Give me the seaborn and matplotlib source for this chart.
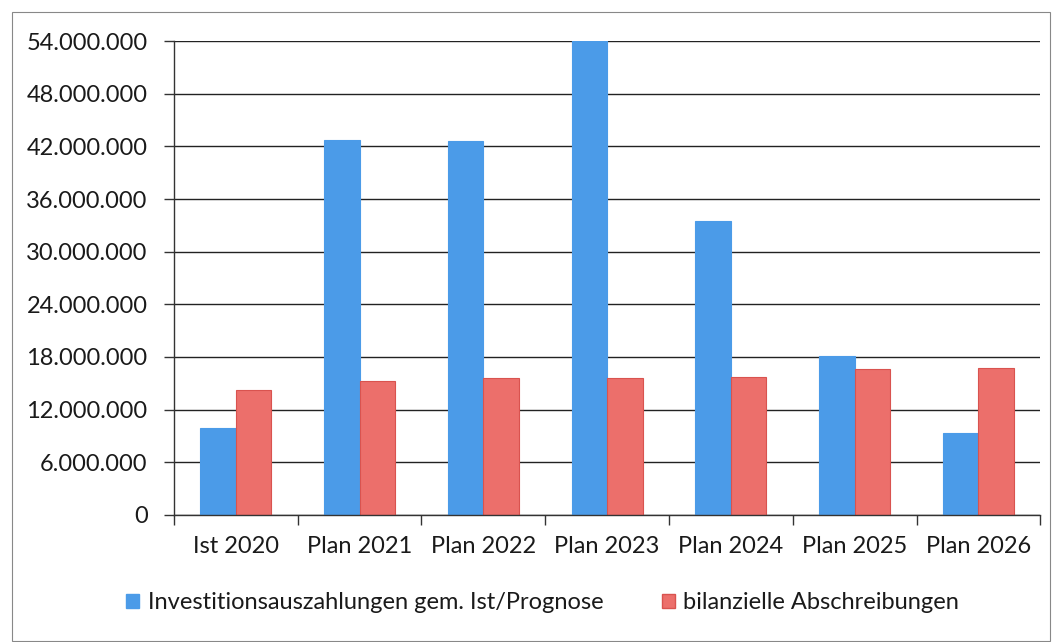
import matplotlib
matplotlib.use("Agg")
import matplotlib.pyplot as plt
from matplotlib.ticker import FuncFormatter, FixedLocator, MultipleLocator
from matplotlib.patches import Rectangle, Patch
import seaborn as sns
import pandas as pd

categories = ["Ist 2020", "Plan 2021", "Plan 2022", "Plan 2023", "Plan 2024", "Plan 2025", "Plan 2026"]
investitionen = [9_900_000, 42_700_000, 42_600_000, 54_300_000, 33_500_000, 18_100_000, 9_300_000]
abschreibungen = [14_250_000, 15_300_000, 15_600_000, 15_600_000, 15_700_000, 16_600_000, 16_700_000]
series_names = ["Investitionsauszahlungen gem. Ist/Prognose", "bilanzielle Abschreibungen"]
colors = ["#4B9BE8", "#EC6F6B"]
edge_colors = ["#4B9BE8", "#D9534F"]

df = pd.DataFrame({
    "Kategorie": categories * 2,
    "Wert": investitionen + abschreibungen,
    "Serie": [series_names[0]] * len(categories) + [series_names[1]] * len(categories),
})

sns.set_theme(style="white")
plt.rcParams["font.family"] = ["Lato", "DejaVu Sans"]

fig = plt.figure(figsize=(10.54, 6.42), dpi=100)
ax = fig.add_axes([0.165, 0.198, 0.822, 0.738])

sns.barplot(data=df, x="Kategorie", y="Wert", hue="Serie", order=categories,
            hue_order=series_names, palette=colors, width=0.575, ax=ax,
            saturation=1, legend=False)

for i, container in enumerate(ax.containers):
    for bar in container:
        bar.set_edgecolor(edge_colors[i])
        bar.set_linewidth(0.8)

ax.set_ylim(0, 54_000_000)
ax.set_xlim(-0.5, len(categories) - 0.5)
ax.yaxis.set_major_locator(MultipleLocator(6_000_000))
ax.yaxis.set_major_formatter(FuncFormatter(lambda v, p: f"{int(v):,}".replace(",", ".")))
ax.grid(axis="y", color="#222222", linewidth=1.0)
ax.set_axisbelow(True)

for s in ["top", "right"]:
    ax.spines[s].set_visible(False)
ax.spines["left"].set_color("#333333")
ax.spines["bottom"].set_color("#333333")
ax.spines["left"].set_linewidth(1.0)
ax.spines["bottom"].set_linewidth(1.0)

ax.tick_params(axis="y", left=True, length=7, width=1, color="#333333",
               labelsize=17, labelcolor="#1a1a1a", pad=12)
ax.set_xticks(range(len(categories)))
ax.set_xticklabels(categories)
ax.tick_params(axis="x", which="major", length=0, labelsize=17, labelcolor="#1a1a1a", pad=15)
ax.xaxis.set_minor_locator(FixedLocator([i - 0.5 for i in range(len(categories) + 1)]))
ax.tick_params(axis="x", which="minor", bottom=True, length=7, width=1, color="#333333")
ax.set_xlabel("")
ax.set_ylabel("")

handles = [Patch(facecolor=colors[0], edgecolor=edge_colors[0]),
           Patch(facecolor=colors[1], edgecolor=edge_colors[1])]
fig.legend(handles, series_names, loc="center", bbox_to_anchor=(0.515, 0.061),
           ncol=2, frameon=False, fontsize=17, handlelength=0.55, handleheight=0.55,
           handletextpad=0.35, columnspacing=2.5, labelcolor="#1a1a1a")

fig.patches.append(Rectangle((12 / 1054, 0.002), 1038 / 1054, 1 - 12 / 642 - 0.002,
                             transform=fig.transFigure, fill=False,
                             edgecolor="#888888", linewidth=0.8))

fig.savefig("out.png", dpi=100, facecolor="white")
